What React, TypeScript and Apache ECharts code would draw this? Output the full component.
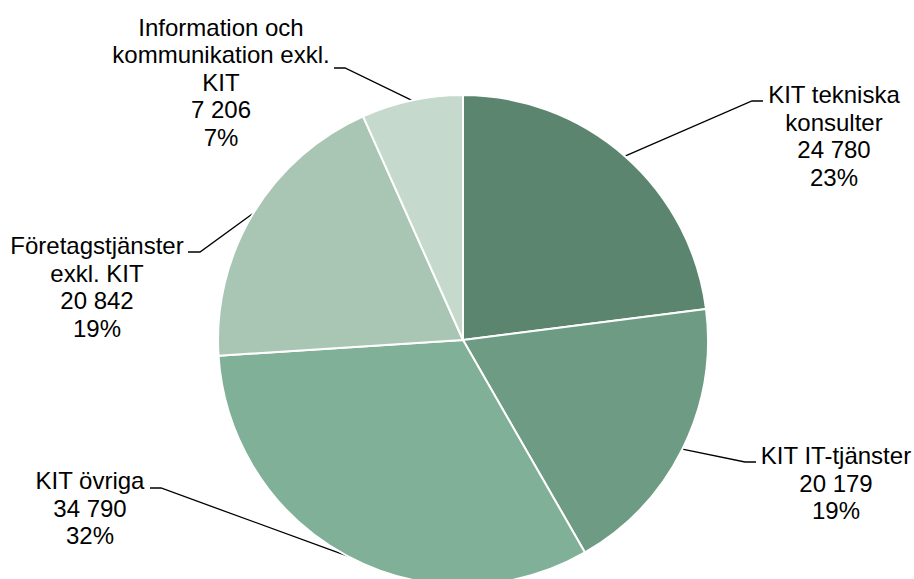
import React, { useEffect, useRef } from "react";
import * as echarts from "echarts";

const categories = [
  "KIT tekniska konsulter",
  "KIT IT-tjänster",
  "KIT övriga",
  "Företagstjänster exkl. KIT",
  "Information och kommunikation exkl. KIT",
];
const labelLines = [
  ["KIT tekniska", "konsulter"],
  ["KIT IT-tjänster"],
  ["KIT övriga"],
  ["Företagstjänster", "exkl. KIT"],
  ["Information och", "kommunikation exkl.", "KIT"],
];
const values = [24780, 20179, 34790, 20842, 7206];
const colors = ["#5c8570", "#6e9b84", "#80b098", "#a9c6b4", "#c6d9cd"];

// label placement (x, y center of label block) and leader elbow points
const labelPos: [number, number][] = [
  [834, 136],
  [836, 483],
  [90, 508],
  [97, 287],
  [221, 82],
];
const elbows: [number, number][][] = [
  [[752, 101], [763, 101]],
  [[745, 462], [756, 462]],
  [[161, 488], [150, 488]],
  [[200, 252], [188, 252]],
  [[345, 68], [334, 68]],
];

const total = values.reduce((a, b) => a + b, 0);
const fmt = (v: number) => String(v).replace(/\B(?=(\d{3})+(?!\d))/g, " ");

export default function App() {
  const ref = useRef<HTMLDivElement>(null);
  useEffect(() => {
    if (!ref.current) return;
    const chart = echarts.init(ref.current, null, { renderer: "svg" });
    chart.setOption({
      animation: false,
      backgroundColor: "#ffffff",
      series: [
        {
          type: "pie",
          center: [463, 340],
          radius: 245,
          startAngle: 90,
          clockwise: true,
          avoidLabelOverlap: false,
          itemStyle: { borderColor: "#ffffff", borderWidth: 2 },
          label: {
            show: true,
            color: "#000000",
            fontFamily: "Liberation Sans, Arial, sans-serif",
            fontSize: 24,
            lineHeight: 27.5,
            align: "center",
            formatter: (p: any) => {
              const i = p.dataIndex;
              const pct = Math.round((values[i] / total) * 100);
              return [...labelLines[i], fmt(values[i]), pct + "%"].join("\n");
            },
          },
          labelLine: {
            show: true,
            lineStyle: { color: "#000000", width: 1.3 },
          },
          labelLayout: (params: any) => {
            const i = params.dataIndex;
            const start = params.labelLinePoints
              ? params.labelLinePoints[0]
              : [463, 340];
            return {
              x: labelPos[i][0],
              y: labelPos[i][1],
              align: "center",
              verticalAlign: "middle",
              labelLinePoints: [start, elbows[i][0], elbows[i][1]],
            };
          },
          emphasis: { disabled: true },
          data: categories.map((name, i) => ({
            name,
            value: values[i],
            itemStyle: { color: colors[i] },
          })),
        },
      ],
    });
    return () => chart.dispose();
  }, []);
  return (
    <div
      ref={ref}
      style={{ position: "fixed", left: 0, top: 0, width: 914, height: 579 }}
    />
  );
}
